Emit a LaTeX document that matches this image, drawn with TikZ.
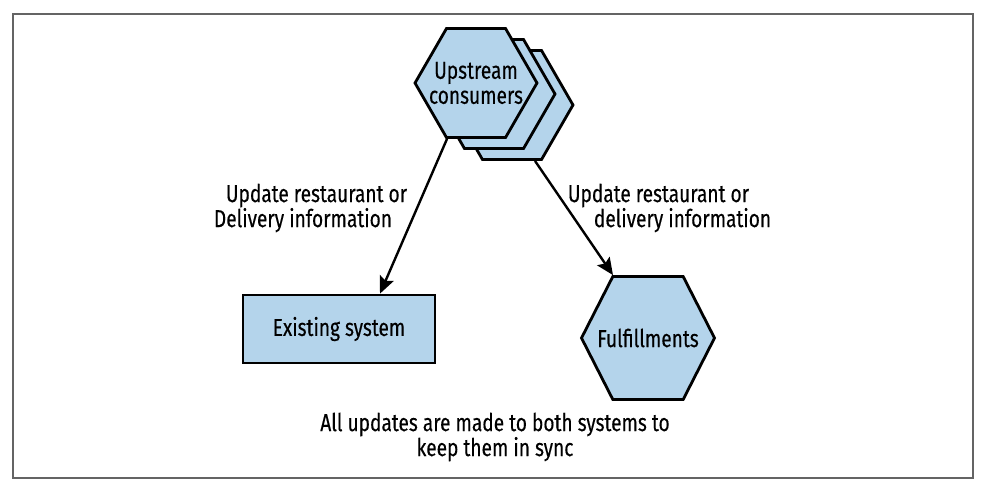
\documentclass[tikz,border=0pt]{standalone}
\usepackage{fontspec}
\setmainfont[FakeStretch=0.78,FakeBold=0.3]{Fira Sans}
\usepackage{tikz}
\usetikzlibrary{positioning,arrows.meta,shapes.geometric,shapes.symbols}
\definecolor{hexblue}{RGB}{180,212,235}
\definecolor{framegray}{RGB}{100,100,100}
\tikzstyle{hexa}  = [shape=signal, signal to=east and west, signal pointer angle=120, draw=black, fill=hexblue, line width=2.8pt, inner sep=0pt]
\tikzstyle{box}   = [rectangle, draw=black, fill=hexblue, line width=2.8pt, minimum width=192pt, minimum height=68pt]
\tikzstyle{arrow} = [line width=2.4pt, -{Stealth[length=17pt,width=15pt,inset=3pt]}]
\tikzstyle{lbl}   = [align=left, inner sep=0pt]

\begin{document}
\begin{tikzpicture}[x=1pt,y=-1pt,font=\fontsize{24.5}{25}\selectfont]
        \useasboundingbox (0,0) rectangle (981,488);
        \draw[framegray, line width=2pt] (13,14) rectangle (973,478);

        % upstream stack
        \node[hexa, minimum width=122pt, minimum height=109pt] (ups3) at (512,105) {};
        \node[hexa, minimum width=122pt, minimum height=109pt] (ups2) at (494,94) {};
        \node[hexa, minimum width=122pt, minimum height=109pt,
              label={[align=center]center:Upstream\\consumers}] (ups) at (476,83) {};

        \node[box] (exist) at (339,329) {Existing system};
        \node[hexa, minimum width=133pt, minimum height=123pt, signal pointer angle=126,
              label={center:Fulfillments}] (ful) at (648,338) {};

        \draw[arrow] ([xshift=-29pt]ups.south) -- ([xshift=41pt]exist.north);
        \draw[arrow] ([xshift=23pt]ups3.south) -- ([xshift=-35pt]ful.north);

        \node[lbl] (lblexist) at (310.5,208) {\hspace*{12pt}Update restaurant or\\Delivery information};
        \node[lbl] (lblful) at (669.5,208) {Update restaurant or\\\hspace*{26pt}delivery information};
        \node[align=center] (note) at (495,437) {All updates are made to both systems to\\keep them in sync};
    \end{tikzpicture}
\end{document}
